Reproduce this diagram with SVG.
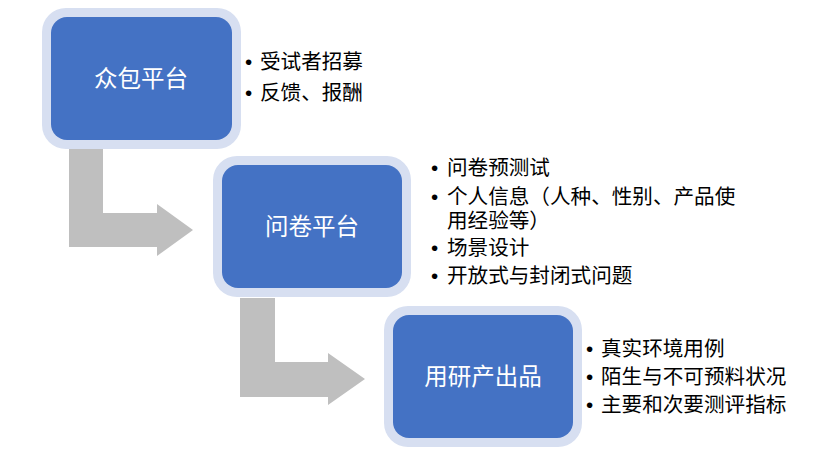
<svg xmlns="http://www.w3.org/2000/svg" width="815" height="456" viewBox="0 0 815 456">
<style>
.halo{fill:#d7dff1}
.box{fill:#4472c4}
.lbl{fill:#ffffff;font-family:"Liberation Sans","Noto Sans CJK SC",sans-serif;font-size:23.5px;text-anchor:middle}
.txt{fill:#000000;font-family:"Liberation Sans","Noto Sans CJK SC",sans-serif;font-size:20.6px}
.arr{fill:#bfbfbf}
</style>
<rect width="815" height="456" fill="#ffffff"/>
<g id="connectors">
<polygon class="arr" points="69,148 103,148 103,213 157,213 157,204 193,230 157,256 157,247 69,247"/>
<polygon class="arr" points="240,298 275,298 275,362 328,362 328,353 365,379 328,405 328,397 240,397"/>
</g>
<g id="node1">
<rect class="halo" x="42" y="8" width="199" height="141" rx="24"/>
<rect class="box" x="51" y="17" width="181" height="123" rx="16"/>
<text class="lbl" x="141" y="87">众包平台</text>
</g>
<g id="node2">
<rect class="halo" x="213" y="156" width="198" height="141" rx="24"/>
<rect class="box" x="222" y="165" width="180" height="123" rx="16"/>
<text class="lbl" x="312" y="235">问卷平台</text>
</g>
<g id="node3">
<rect class="halo" x="384" y="306" width="198" height="141" rx="24"/>
<rect class="box" x="393" y="315" width="180" height="123" rx="16"/>
<text class="lbl" x="483" y="385">用研产出品</text>
</g>
<g id="list1" class="txt">
<text x="245" y="69">•</text><text x="260" y="69">受试者招募</text>
<text x="245" y="100">•</text><text x="260" y="100">反馈、报酬</text>
</g>
<g id="list2" class="txt">
<text x="431" y="175">•</text><text x="447" y="175">问卷预测试</text>
<text x="431" y="204">•</text><text x="447" y="204">个人信息（人种、性别、产品使</text>
<text x="447" y="228">用经验等）</text>
<text x="431" y="255">•</text><text x="447" y="255">场景设计</text>
<text x="431" y="283">•</text><text x="447" y="283">开放式与封闭式问题</text>
</g>
<g id="list3" class="txt">
<text x="586" y="356">•</text><text x="601" y="356">真实环境用例</text>
<text x="586" y="384">•</text><text x="601" y="384">陌生与不可预料状况</text>
<text x="586" y="412">•</text><text x="601" y="412">主要和次要测评指标</text>
</g>
</svg>
